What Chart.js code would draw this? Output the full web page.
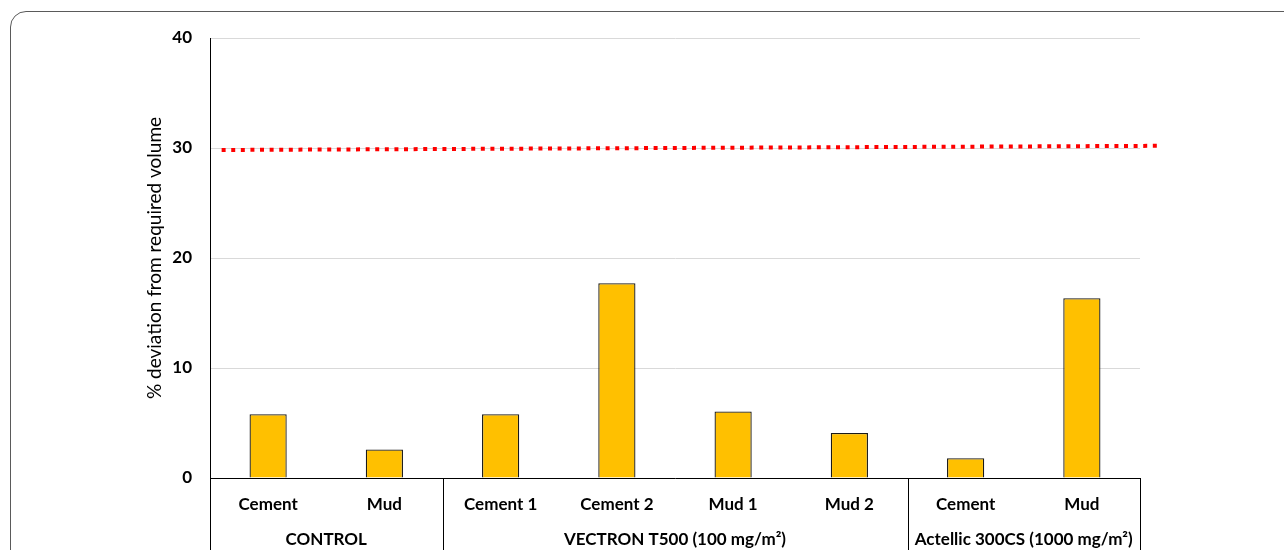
<!DOCTYPE html>
<html>
<head>
<meta charset="utf-8">
<script src="https://cdn.jsdelivr.net/npm/chart.js@4.4.0/dist/chart.umd.min.js"></script>
<style>
  html, body { margin: 0; padding: 0; background: #fff; overflow: hidden; }
  #wrap { position: relative; width: 1284px; height: 550px; overflow: hidden; }
  #frame { position: absolute; left: 10px; top: 11px; width: 1400px; height: 700px;
           border: 1.5px solid #5a5a5a; border-radius: 16px; box-sizing: border-box; }
  canvas { position: absolute; left: 0; top: 0; }
</style>
</head>
<body>
<div id="wrap">
  <div id="frame"></div>
  <canvas id="c" width="1284" height="550"></canvas>
</div>
<script>
const categories = ["Cement", "Mud", "Cement 1", "Cement 2", "Mud 1", "Mud 2", "Cement", "Mud"];
const values = [5.8, 2.6, 5.8, 17.7, 6.05, 4.1, 1.8, 16.35];
const groupNames = ["CONTROL", "VECTRON T500 (100 mg/m\u00B2)", "Actellic 300CS (1000 mg/m\u00B2)"];
const groupSizes = [2, 4, 2];
// threshold line: start/end in category-slot units (0 = left edge of first slot) and y values
const thresholdX = [0.1, 8.19];
const thresholdY = [29.82, 30.2];
const yTicks = [0, 10, 20, 30, 40];

const FONT = "Lato, 'Open Sans', sans-serif";

const groupPlugin = {
  id: 'groups',
  afterDatasetsDraw(chart) {
    const ctx = chart.ctx;
    const xs = chart.scales.x, ys = chart.scales.y;
    const step = xs.getPixelForValue(1) - xs.getPixelForValue(0);
    const x0 = xs.getPixelForValue(0) - step / 2;
    ctx.save();
    ctx.strokeStyle = '#ff0000';
    ctx.lineWidth = 4;
    ctx.lineCap = 'butt';
    ctx.setLineDash([4, 5.6]);
    ctx.beginPath();
    ctx.moveTo(x0 + thresholdX[0] * step, ys.getPixelForValue(thresholdY[0]));
    ctx.lineTo(x0 + thresholdX[1] * step, ys.getPixelForValue(thresholdY[1]));
    ctx.stroke();
    ctx.restore();
  },
  afterDraw(chart) {
    const ctx = chart.ctx;
    const xs = chart.scales.x;
    const area = chart.chartArea;
    const step = xs.getPixelForValue(1) - xs.getPixelForValue(0);
    ctx.save();
    ctx.strokeStyle = '#000';
    ctx.lineWidth = 1;
    ctx.fillStyle = '#000';
    ctx.font = "bold 17px " + FONT;
    ctx.textAlign = 'center';
    ctx.textBaseline = 'middle';
    let idx = 0;
    const bounds = [];
    for (let g = 0; g < groupNames.length; g++) {
      const left = xs.getPixelForValue(idx) - step / 2;
      const right = xs.getPixelForValue(idx + groupSizes[g] - 1) + step / 2;
      if (g === 0) bounds.push(left);
      bounds.push(right);
      ctx.fillText(groupNames[g], (left + right) / 2, 540);
      idx += groupSizes[g];
    }
    bounds.forEach(b => {
      const x = Math.round(b) + 0.5;
      ctx.beginPath();
      ctx.moveTo(x, area.bottom);
      ctx.lineTo(x, chart.height);
      ctx.stroke();
    });
    ctx.restore();
  }
};

new Chart(document.getElementById('c'), {
  type: 'bar',
  data: {
    labels: categories,
    datasets: [
      {
        data: values,
        backgroundColor: '#FFC000',
        borderColor: '#1a1a1a',
        borderWidth: 1.3,
        barPercentage: 0.32,
        categoryPercentage: 1,
        grouped: false
      }
    ]
  },
  options: {
    responsive: false,
    animation: false,
    events: [],
    layout: { padding: { left: 143, right: 144, top: 38, bottom: 0 } },
    plugins: { legend: { display: false }, tooltip: { enabled: false } },
    scales: {
      x: {
        type: 'category',
        grid: { display: false, drawTicks: false },
        border: { display: true, color: '#000', width: 1 },
        ticks: { color: '#000', font: { family: FONT, size: 17, weight: 'bold' }, padding: 16, maxRotation: 0, autoSkip: false },
        afterFit(s) { s.height = 72; }
      },
      y: {
        min: 0, max: 40,
        afterBuildTicks(s) { s.ticks = yTicks.map(v => ({ value: v })); },
        grid: { color: '#d9d9d9', lineWidth: 1, drawTicks: false },
        border: { display: true, color: '#000', width: 1 },
        ticks: { color: '#000', font: { family: FONT, size: 17, weight: 'bold' }, padding: 18 },
        title: { display: true, text: '% deviation from required volume', color: '#000',
                 font: { family: FONT, size: 19 }, padding: 0 },
        afterFit(s) { s.width = 67; }
      }
    }
  },
  plugins: [groupPlugin]
});
</script>
</body>
</html>
